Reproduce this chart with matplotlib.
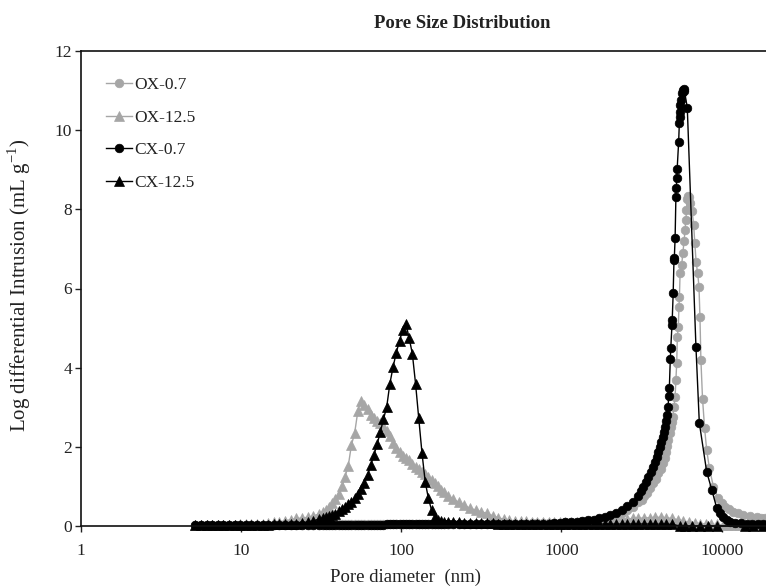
import matplotlib
matplotlib.use("Agg")
import matplotlib.pyplot as plt

plt.rcParams["font.family"] = ["Liberation Serif", "DejaVu Serif"]
plt.rcParams["mathtext.fontset"] = "custom"
plt.rcParams["mathtext.rm"] = "Liberation Serif"

# Shared pore-diameter grid (nm) for the fine/meso range of all samples
diam_common = [
    5.20, 5.64, 6.11, 6.62, 7.18, 7.78, 8.43, 9.14, 9.91, 10.7, 11.6, 12.6,
    13.7, 14.8, 16.1, 17.4, 18.9, 20.5, 22.2, 24.0, 26.1, 28.2, 30.6,
    32.4, 33.9, 35.5, 37.2, 38.9, 40.7, 42.7, 44.7, 46.8, 49.0, 51.3, 53.7,
    56.2, 58.9, 61.7, 64.6, 67.6, 70.8, 74.1, 77.6, 81.3, 85.1, 89.1, 93.3,
    97.7, 102.3, 107.2, 112.2, 117.5, 123.0, 128.8, 134.9, 141.3, 147.9,
    154.9, 162.2, 169.8, 177.8, 186.2, 195.0,
    211, 229, 248, 269, 292, 316, 343, 372, 403, 437, 473, 513, 556, 603,
    653, 708, 767, 832, 902, 977, 1059, 1148, 1245, 1349, 1462, 1585, 1718,
    1862, 2018, 2188, 2371, 2570, 2786, 3020,
]

# Log differential intrusion (mL/g) on the shared grid
ox07_common = [0.03] * 23 + [0.04] * 40 + [
    0.04, 0.04, 0.05, 0.05, 0.05, 0.05, 0.05, 0.05, 0.05, 0.06,
    0.06, 0.06, 0.06, 0.06, 0.07, 0.07, 0.07, 0.07, 0.08, 0.08,
    0.09, 0.10, 0.11, 0.12, 0.13, 0.14, 0.16, 0.18, 0.22, 0.27,
    0.33, 0.41, 0.49, 0.60,
]
ox125_common = [
    0.02, 0.02, 0.02, 0.03, 0.03, 0.03, 0.03, 0.03, 0.04, 0.04, 0.04,
    0.05, 0.06, 0.07, 0.09, 0.11, 0.13, 0.16, 0.19, 0.20, 0.22, 0.25, 0.30,
    0.35, 0.40, 0.47, 0.57, 0.67, 0.80, 1.00, 1.25, 1.52, 2.05,
    2.35, 2.90, 3.15, 3.05, 2.95, 2.80, 2.72, 2.65, 2.60, 2.52,
    2.40, 2.27, 2.10, 1.96, 1.86, 1.78, 1.71, 1.66, 1.57, 1.49,
    1.43, 1.37, 1.31, 1.24, 1.16, 1.08, 1.00, 0.92, 0.85, 0.77,
    0.68, 0.60, 0.52, 0.45, 0.40, 0.36, 0.32, 0.26, 0.21, 0.17,
    0.15, 0.13, 0.12, 0.12, 0.11, 0.11, 0.11, 0.11, 0.11, 0.11,
    0.11, 0.11, 0.11, 0.11, 0.12, 0.12, 0.13, 0.14, 0.15, 0.16,
    0.17, 0.18, 0.19, 0.20,
]
cx07_common = [0.03] * 23 + [0.03] * 20 + [0.04] * 20 + [
    0.04, 0.04, 0.04, 0.04, 0.04, 0.04, 0.04, 0.04, 0.04, 0.04,
    0.04, 0.04, 0.04, 0.05, 0.05, 0.05, 0.06, 0.06, 0.07, 0.08,
    0.09, 0.10, 0.11, 0.12, 0.14, 0.16, 0.19, 0.23, 0.28, 0.34,
    0.41, 0.50, 0.60, 0.76,
]
cx125_common = [
    0.02, 0.02, 0.02, 0.02, 0.02, 0.03, 0.03, 0.03, 0.03, 0.03, 0.03, 0.03,
    0.03, 0.03, 0.04, 0.04, 0.04, 0.05, 0.06, 0.08, 0.10, 0.13, 0.17,
    0.20, 0.22, 0.25, 0.27, 0.31, 0.37, 0.42, 0.49, 0.55, 0.61,
    0.71, 0.81, 0.94, 1.09, 1.28, 1.53, 1.79, 2.06, 2.37, 2.70,
    3.01, 3.60, 4.02, 4.38, 4.68, 4.95, 5.10, 4.75, 4.35, 3.60,
    2.72, 1.85, 1.12, 0.70, 0.40, 0.24, 0.14, 0.12, 0.11, 0.10,
    0.09, 0.09, 0.08, 0.08, 0.08, 0.07, 0.07, 0.07, 0.06, 0.06,
    0.06, 0.06, 0.06, 0.05, 0.05, 0.05, 0.05, 0.05, 0.05, 0.05,
    0.05, 0.05, 0.05, 0.05, 0.05, 0.05, 0.05, 0.05, 0.05, 0.05,
    0.05, 0.05, 0.05, 0.05,
]

# Macropore range, sampled separately for each sample
ox07_diam_hi = [
    3162, 3281, 3404, 3565, 3741, 3890, 4027, 4159, 4285, 4395, 4498, 4571,
    4645, 4732, 4808, 4875, 4943, 5035, 5117, 5176, 5236, 5284, 5358, 5408,
    5445, 5495, 5623, 5715, 5821, 5902, 5970, 6026, 6095, 6180, 6281, 6339,
    6531, 6683, 6792, 6918, 7079, 7211, 7311, 7413, 7586, 7816, 8054, 8375,
    8872, 9528, 10000, 10495, 11092, 11803, 12589, 13646, 14962, 16520,
    17579, 18621,
]
ox07_hi = [
    0.66, 0.75, 0.83, 0.95, 1.08, 1.20, 1.33, 1.45, 1.58, 1.73, 1.88, 2.02,
    2.17, 2.34, 2.51, 2.63, 2.76, 3.01, 3.27, 3.70, 4.11, 4.78, 5.03, 5.54,
    5.79, 6.38, 6.59, 6.89, 7.20, 7.47, 7.73, 7.98, 8.25, 8.33, 8.32, 8.15,
    7.95, 7.60, 7.14, 6.67, 6.38, 6.04, 5.29, 4.19, 3.22, 2.47, 1.92, 1.46,
    0.99, 0.70, 0.58, 0.49, 0.42, 0.36, 0.32, 0.28, 0.25, 0.23,
    0.21, 0.19,
]
ox125_diam_hi = [
    3273, 3548, 3846, 4169, 4519, 4898, 5309, 5754, 6237, 6761, 7328, 7943,
    8610, 9333, 10116, 10965, 11885, 12882, 13964, 15136, 16406, 17783,
]
ox125_hi = [
    0.20, 0.21, 0.22, 0.22, 0.21, 0.19, 0.16, 0.13, 0.10, 0.08, 0.06, 0.05,
    0.04, 0.04, 0.03, 0.03, 0.03, 0.03, 0.03, 0.03, 0.03, 0.03,
]
cx07_diam_hi = [
    3126, 3243, 3365, 3483, 3614, 3741, 3846, 3936, 4027, 4121, 4207, 4285,
    4365, 4426, 4487, 4539, 4624, 4667, 4710, 4775, 4808, 4887, 4909, 4977,
    5035, 5058, 5117, 5176, 5200, 5248, 5272, 5383, 5433, 5458, 5483, 5508,
    5546, 5623, 5702, 5781, 5848, 6095, 6902, 7244, 8054, 8670, 9311, 9750,
    10233, 10715, 11272, 12162, 13183, 14289, 15488, 16788, 18197,
]
cx07_hi = [
    0.88, 0.99, 1.11, 1.24, 1.37, 1.50, 1.62, 1.75, 1.87, 2.00, 2.13, 2.26,
    2.38, 2.51, 2.65, 2.80, 3.01, 3.28, 3.48, 4.21, 4.49, 5.08, 5.20, 5.88,
    6.72, 6.76, 7.27, 8.32, 8.53, 8.78, 9.03, 9.70, 10.17, 10.34, 10.46, 10.63,
    10.76, 10.93, 11.02, 11.05, 11.00, 10.57, 4.53, 2.61, 1.37, 0.91, 0.45, 0.32,
    0.22, 0.15, 0.11, 0.08, 0.07, 0.06, 0.06, 0.06, 0.06,
]
cx125_diam_hi = [
    3273, 3548, 3846, 4169, 4519, 4898, 5521, 5902, 6501, 7328, 8260, 9311,
    13996, 15776, 18197,
]
cx125_hi = [
    0.05, 0.05, 0.05, 0.05, 0.05, 0.04, 0.0, 0.0, 0.0, 0.0, 0.0, 0.0,
    0.0, 0.0, 0.0,
]

series = [
    ("OX-0.7", diam_common + ox07_diam_hi, ox07_common + ox07_hi, "#a6a6a6", "o", 6.2),
    ("OX-12.5", diam_common + ox125_diam_hi, ox125_common + ox125_hi, "#a6a6a6", "^", 7.0),
    ("CX-0.7", diam_common + cx07_diam_hi, cx07_common + cx07_hi, "#000000", "o", 6.2),
    ("CX-12.5", diam_common + cx125_diam_hi, cx125_common + cx125_hi, "#000000", "^", 7.0),
]

W, H = 766, 586
fig = plt.figure(figsize=(W / 100, H / 100), dpi=100)
ax = fig.add_axes([80.5 / W, 60 / H, 1 - 80.5 / W, 475 / H])

for name, d, v, col, mk, ms in series:
    ax.plot(d, v, color=col, lw=1.0, marker=mk, ms=ms, mfc=col, mec=col,
            mew=0.5, label=name, clip_on=False)

ax.set_xscale("log")
ax.set_xlim(1, 10 ** 4.276)
ax.set_ylim(0, 12)
ax.set_xticks([1, 10, 100, 1000, 10000])
ax.set_xticklabels(["1", "10", "100", "1000", "10000"])
ax.xaxis.set_minor_locator(matplotlib.ticker.NullLocator())
ax.set_yticks(range(0, 13, 2))

txt = "#222222"
ax.tick_params(axis="both", direction="out", length=4, width=1.0,
               labelsize=12.5, colors=txt)
ax.tick_params(axis="y", pad=2)
ax.tick_params(axis="x", pad=8)
for side in ("left", "bottom", "top"):
    ax.spines[side].set_linewidth(1.2)
    ax.spines[side].set_color("#111111")
ax.spines["right"].set_visible(False)

fig.text(462 / W, 1 - 23 / H, "Pore Size Distribution", ha="center",
         va="center", fontsize=13.5, fontweight="bold", color=txt)
fig.text(405 / W, 1 - 577 / H, "Pore diameter  (nm)", ha="center",
         va="center", fontsize=13.5, color=txt)
fig.text(19 / W, 1 - 285 / H, r"Log differential Intrusion (mL g$^{\mathregular{-1}}$)",
         ha="center", va="center", rotation=90, fontsize=15, color=txt)

leg = ax.legend(loc="upper left", bbox_to_anchor=(106 / W, 1 - 77 / H),
                bbox_transform=fig.transFigure, frameon=False, fontsize=12.5,
                handlelength=1.5, handletextpad=0.15, labelspacing=0.95,
                borderaxespad=0, borderpad=0, numpoints=1)
for t in leg.get_texts():
    t.set_color(txt)

fig.savefig("out.png", dpi=100)
